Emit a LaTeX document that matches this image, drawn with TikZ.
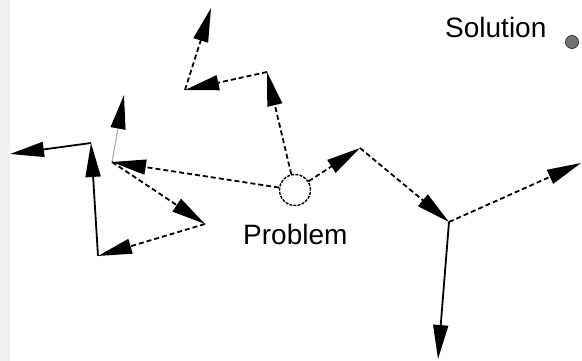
\documentclass[tikz,border=0pt]{standalone}
\usepackage{fontspec}
\setmainfont{Liberation Sans}
\usetikzlibrary{arrows.meta}

\tikzset{
  trail/.style = {-{Triangle[length=34pt,width=15pt]}, line width=1.8pt, dash pattern=on 5pt off 3pt},
  jump/.style  = {-{Triangle[length=34pt,width=15pt]}, line width=1.8pt},
  faint/.style = {-{Triangle[length=34pt,width=15pt,color=black]}, line width=1.2pt, draw=black!30},
  lbl/.style   = {anchor=base west, inner sep=0pt, font=\fontsize{28}{30}\selectfont},
}

\begin{document}
\begin{tikzpicture}[x=1pt,y=1pt]
  % Frame
  \useasboundingbox (0,0) rectangle (582,361);
  \fill[red!3!black!6] (0,0) rectangle (10,361);

  % Start and goal
  \node[circle, draw, line width=1.4pt, dash pattern=on 3pt off 1.2pt,
        minimum size=31pt, inner sep=0pt] (prob) at (295,171) {};
  \node[lbl] (problbl) at (243,116) {Problem};
  \node[lbl] (sollbl) at (445,323) {Solution};
  \node[circle, draw=black!80, line width=0.8pt, fill=black!55,
        minimum size=13pt, inner sep=0pt] (sol) at (572,319) {};

  % Upper branch
  \coordinate (a1) at (267,289);
  \coordinate (a2) at (185,271);
  \coordinate (a3) at (211,353);
  \draw[trail] (prob) -- (a1);
  \draw[trail] (a1) -- (a2);
  \draw[trail] (a2) -- (a3);

  % Left branch
  \coordinate (b1) at (112,199);
  \coordinate (b2) at (124,266);
  \coordinate (b3) at (205,137);
  \coordinate (b4) at (98,105);
  \coordinate (b5) at (91,218);
  \coordinate (b6) at (10,207);
  \draw[trail] (prob) -- (b1);
  \draw[faint] (b1) -- (b2);
  \draw[trail] (b1) -- (b3);
  \draw[trail] (b3) -- (b4);
  \draw[jump] (b4) -- (b5);
  \draw[jump] (b5) -- (b6);

  % Right branch
  \coordinate (c1) at (360,213);
  \coordinate (c2) at (449,139);
  \coordinate (c3) at (581,198);
  \coordinate (c4) at (438,2);
  \draw[trail] (prob) -- (c1);
  \draw[trail] (c1) -- (c2);
  \draw[trail] (c2) -- (c3);
  \draw[jump] (c2) -- (c4);

\end{tikzpicture}
\end{document}
